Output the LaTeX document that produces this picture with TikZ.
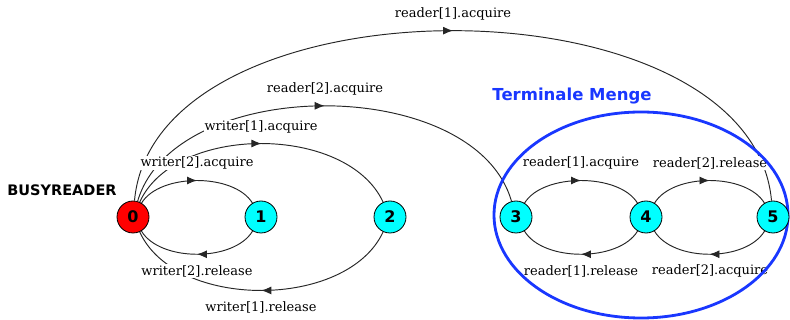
\documentclass[tikz,border=0pt]{standalone}
\usepackage{fontspec}
\setmainfont{DejaVu Serif}
\setsansfont{DejaVu Sans}
\usetikzlibrary{arrows.meta,decorations.markings}

\definecolor{termblue}{RGB}{25,55,255}
\definecolor{statecyan}{RGB}{0,255,255}
\definecolor{startred}{RGB}{255,0,0}

\pgfdeclarelayer{front}
\pgfsetlayers{main,front}

\begin{document}
\begin{tikzpicture}[x=1pt,y=-1pt,
  stnode/.style={circle,draw=black,line width=0.8pt,fill=statecyan,
    minimum size=32pt,inner sep=0pt,
    font=\sffamily\bfseries\fontsize{16}{16}\selectfont},
  trans/.style={draw=black!85,line width=0.95pt,postaction={decorate},
    decoration={markings,mark=at position 0.5 with
      {\arrow{Latex[length=10pt,width=8pt]}}}},
  lbl/.style={fill=white,inner sep=1pt,
    font=\fontsize{13}{13}\selectfont}]
\useasboundingbox (0,0) rectangle (790,320);

% states, kept on the front layer above the terminal set outline
\begin{pgfonlayer}{front}
\node[stnode,fill=startred] (n0) at (133,217) {0};
\node[stnode] (n1) at (261,217) {1};
\node[stnode] (n2) at (390,217) {2};
\node[stnode] (n3) at (516,217) {3};
\node[stnode] (n4) at (646,217) {4};
\node[stnode] (n5) at (773,217) {5};
\end{pgfonlayer}

\node[font=\sffamily\bfseries\fontsize{14.5}{14.5}\selectfont] (busy) at (62,190) {BUSYREADER};

% transitions
\path[trans] (n0) .. controls (160,173) and (234,173) .. (n1);
\path[trans] (n1) .. controls (234,262) and (160,262) .. (n0);
\path[trans] (n0) .. controls (175,124) and (347,124) .. (n2);
\path[trans] (n2) .. controls (347,310) and (175,310) .. (n0);
\path[trans] (n0) .. controls (175,74) and (475,74) .. (n3);
\path[trans] (n0) .. controls (155,-26) and (751,-26) .. (n5);
\path[trans] (n3) .. controls (543,173) and (619,173) .. (n4);
\path[trans] (n4) .. controls (619,262) and (543,262) .. (n3);
\path[trans] (n4) .. controls (673,173) and (746,173) .. (n5);
\path[trans] (n5) .. controls (746,262) and (673,262) .. (n4);

% transition labels
\node[lbl] (l01) at (197,163) {writer[2].acquire};
\node[lbl] (l10) at (197,271) {writer[2].release};
\node[lbl] (l02) at (261,127) {writer[1].acquire};
\node[lbl] (l20) at (261,307) {writer[1].release};
\node[lbl] (l03) at (325,89) {reader[2].acquire};
\node[lbl] (l05) at (453,14) {reader[1].acquire};
\node[lbl] (l34) at (581,163) {reader[1].acquire};
\node[lbl] (l43) at (581,271) {reader[1].release};
\node[lbl] (l45) at (710,163) {reader[2].release};
\node[lbl] (l54) at (710,271) {reader[2].acquire};

% terminal set
\draw[termblue,line width=2.8pt] (641,215) ellipse [x radius=147, y radius=103];
\node[text=termblue,font=\sffamily\bfseries\fontsize{16.5}{16.5}\selectfont] (tm) at (572,96) {Terminale Menge};
\end{tikzpicture}
\end{document}
